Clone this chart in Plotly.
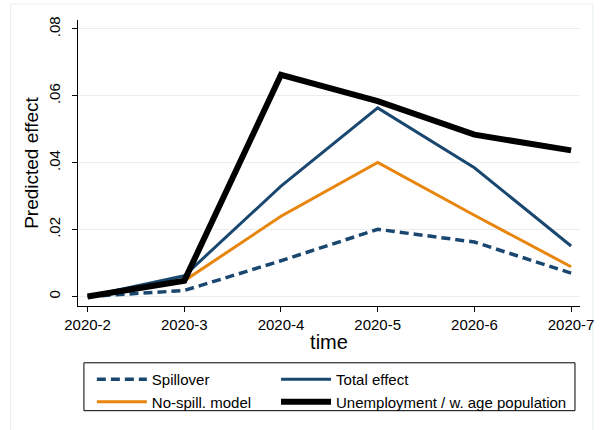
import plotly.graph_objects as go

months = ["2020-2", "2020-3", "2020-4", "2020-5", "2020-6", "2020-7"]
spillover = [0.0, 0.0018, 0.0107, 0.0201, 0.0163, 0.0070]
total_effect = [0.0, 0.0062, 0.0330, 0.0564, 0.0385, 0.0151]
no_spill = [0.0, 0.0047, 0.0240, 0.0401, 0.0243, 0.0089]
unemployment = [0.0, 0.0047, 0.0663, 0.0584, 0.0484, 0.0437]

y_ticks = [0, 0.02, 0.04, 0.06, 0.08]
y_ticklabels = ["0", ".02", ".04", ".06", ".08"]

NAVY = "#1a476f"
ORANGE = "#e8850c"
GRID = "#e6eef0"

x = list(range(len(months)))

fig = go.Figure()
fig.add_trace(go.Scatter(x=x, y=spillover, mode="lines", name="Spillover",
                         legend="legend", legendrank=1,
                         line=dict(color=NAVY, width=3.5, dash="9px,5px")))
fig.add_trace(go.Scatter(x=x, y=total_effect, mode="lines", name="Total effect",
                         legend="legend2", legendrank=1,
                         line=dict(color=NAVY, width=3)))
fig.add_trace(go.Scatter(x=x, y=no_spill, mode="lines", name="No-spill. model",
                         legend="legend", legendrank=2,
                         line=dict(color=ORANGE, width=3)))
fig.add_trace(go.Scatter(x=x, y=unemployment, mode="lines",
                         name="Unemployment / w. age population",
                         legend="legend2", legendrank=2,
                         line=dict(color="black", width=6)))

FONT = "Liberation Sans, Arial, sans-serif"

legend_common = dict(
    orientation="v", xanchor="left", y=-0.199, yanchor="top",
    borderwidth=0, bgcolor="rgba(0,0,0,0)",
    font=dict(size=15, family=FONT, color="black"),
    tracegroupgap=0, itemwidth=50, traceorder="normal",
)

fig.update_layout(
    width=606, height=430,
    margin=dict(l=78, r=21, t=20, b=123),
    paper_bgcolor="white", plot_bgcolor="white",
    font=dict(family=FONT, color="black"),
    showlegend=True,
    legend=dict(x=0.0276, **legend_common),
    legend2=dict(x=0.3945, **legend_common),
    xaxis=dict(
        range=[-0.099, 5.092],
        tickvals=x, ticktext=months,
        showgrid=False, zeroline=False,
        showline=True, linecolor="black", linewidth=1,
        ticks="outside", ticklen=5, tickcolor="black",
        tickfont=dict(size=15, family=FONT),
        title=dict(text="time", font=dict(size=20, family=FONT), standoff=2),
    ),
    yaxis=dict(
        range=[-0.00283, 0.08268],
        tickvals=y_ticks, ticktext=y_ticklabels, tickangle=-90,
        ticklabelstandoff=6,
        showgrid=True, gridcolor=GRID, gridwidth=1,
        zeroline=False,
        showline=True, linecolor="black", linewidth=1,
        ticks="outside", ticklen=5, tickcolor="black",
        tickfont=dict(size=15, family=FONT),
        title=dict(text="Predicted effect", font=dict(size=19, family=FONT), standoff=2),
    ),
    shapes=[
        dict(type="rect", xref="paper", yref="paper",
             x0=-0.134, x1=1.0256, y0=-0.6, y1=1.0557,
             line=dict(color=GRID, width=1), layer="below"),
        dict(type="rect", xref="paper", yref="paper",
             x0=0.0118, x1=0.990, y0=-0.366, y1=-0.1986,
             line=dict(color="black", width=1), fillcolor="white", layer="below"),
    ],
)

fig.write_html("out.html")
